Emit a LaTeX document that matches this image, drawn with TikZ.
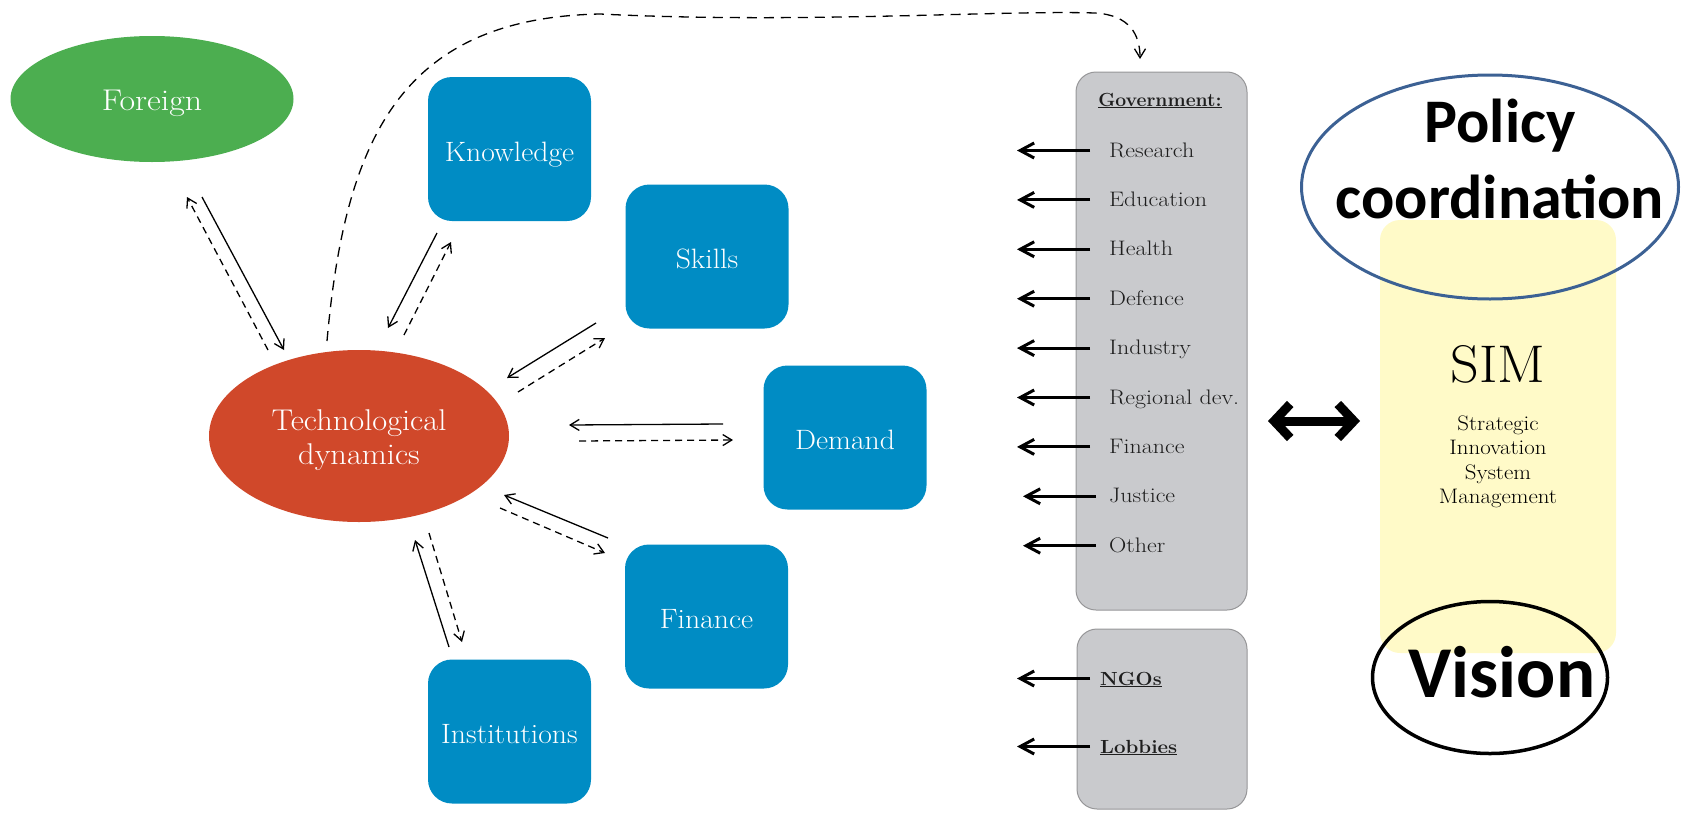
\documentclass[tikz,border=0pt]{standalone}
\usepackage{fontspec}
\usepackage{graphicx}
\newfontfamily\carlito{Carlito}
\usetikzlibrary{arrows.meta,shapes.geometric}
\newcommand\wider[2]{\scalebox{#1}[1]{#2}}
\newcommand\gitem[1]{\scalebox{1.14}[1]{#1}}
\definecolor{boxblue}{RGB}{0,140,196}
\definecolor{techred}{RGB}{208,72,42}
\definecolor{forgreen}{RGB}{76,174,80}
\definecolor{govgray}{RGB}{201,202,205}
\definecolor{govedge}{RGB}{150,150,152}
\definecolor{simyellow}{RGB}{255,250,200}
\definecolor{polblue}{RGB}{60,97,148}
\definecolor{itemtext}{RGB}{30,30,30}
\begin{document}
\begin{tikzpicture}[x=1pt,y=-1pt,
  bluebox/.style={fill=boxblue, rounded corners=24pt, minimum width=163pt, minimum height=144pt,
    text=white, font=\fontsize{28}{33}\selectfont, inner sep=0pt,
    text height=24pt, text depth=0pt},
  govbox/.style={fill=govgray, draw=govedge, line width=1pt, rounded corners=20pt, inner sep=0pt},
  govitem/.style={anchor=base west, font=\fontsize{21}{25}\selectfont, text=itemtext, inner sep=0pt},
  govbold/.style={anchor=base west, font=\fontsize{19}{23}\selectfont\bfseries, text=itemtext, inner sep=0pt},
  govarrow/.style={line width=3pt, -{Straight Barb[length=14pt,width=15pt]}},
  link/.style={line width=1.3pt, -{Straight Barb[length=9pt,width=11pt]}},
  dlink/.style={link, dash pattern=on 7pt off 5pt},
  bigarrow/.style={line width=9pt, {Straight Barb[length=16pt,width=34pt]}-{Straight Barb[length=16pt,width=34pt]}},
]
\useasboundingbox (0,0) rectangle (1686,814);

% ---- left cluster ----
\node[ellipse, fill=forgreen, minimum width=283pt, minimum height=126pt, inner sep=0pt,
  text=white, font=\fontsize{30}{35}\selectfont,
  text height=22pt, text depth=0pt] (foreign) at (152,99) {\wider{1.13}{Foreign}};
\node[ellipse, fill=techred, minimum width=300pt, minimum height=172pt, inner sep=0pt] (tech) at (359,436) {};
\node[anchor=base, text width=260pt, align=center, text=white, inner sep=0pt,
  font=\fontsize{30}{34}\selectfont] (techtext) at (359,430) {\wider{1.08}{Technological}\\\wider{1.08}{dynamics}};

\node[bluebox] (know) at (509.5,149) {\wider{1.06}{Knowledge}};
\node[bluebox] (skills) at (707,256.5) {\wider{1.06}{Skills}};
\node[bluebox] (demand) at (845,437.5) {\wider{1.06}{Demand}};
\node[bluebox] (fin) at (706.5,616.5) {\wider{1.06}{Finance}};
\node[bluebox] (inst) at (509.5,731.5) {\wider{1.06}{Institutions}};

% connector end points
\coordinate (fs1) at (202,197); \coordinate (fs2) at (284,350);
\coordinate (fd1) at (268,350); \coordinate (fd2) at (187,197);
\coordinate (ks1) at (437,233); \coordinate (ks2) at (388,328);
\coordinate (kd1) at (404,335); \coordinate (kd2) at (451,242);
\coordinate (ss1) at (596,323); \coordinate (ss2) at (507,378);
\coordinate (sd1) at (518,392); \coordinate (sd2) at (605,338);
\coordinate (ds1) at (723,424); \coordinate (ds2) at (569,425);
\coordinate (dd1) at (579,441); \coordinate (dd2) at (733,440);
\coordinate (ns1) at (608,538); \coordinate (ns2) at (504,495);
\coordinate (nd1) at (500,508); \coordinate (nd2) at (605,553);
\coordinate (is1) at (449,647); \coordinate (is2) at (415,540);
\coordinate (id1) at (429,533); \coordinate (id2) at (462,642);

\draw[link] (fs1) -- (fs2);  \draw[dlink] (fd1) -- (fd2);
\draw[link] (ks1) -- (ks2);  \draw[dlink] (kd1) -- (kd2);
\draw[link] (ss1) -- (ss2);  \draw[dlink] (sd1) -- (sd2);
\draw[link] (ds1) -- (ds2);  \draw[dlink] (dd1) -- (dd2);
\draw[link] (ns1) -- (ns2);  \draw[dlink] (nd1) -- (nd2);
\draw[link] (is1) -- (is2);  \draw[dlink] (id1) -- (id2);

% long dashed curve to government
\coordinate (cstart) at (327,341);
\coordinate (cend) at (1140,59);
\draw[link, dash pattern=on 10pt off 7pt] (cstart) .. controls (345,140) and (400,18) .. (600,14)
  .. controls (800,24) and (1000,10) .. (1095,13)
  .. controls (1130,15) and (1140,35) .. (cend);

% ---- government ----
\node[govbox, minimum width=171pt, minimum height=538pt] (gov) at (1161.5,341) {};
\node[anchor=base, font=\fontsize{19}{23}\selectfont\bfseries, text=itemtext, inner sep=0pt] (govtitle) at (1160,106) {\underline{\wider{1.02}{Government:}}};
\node[govitem] (research) at (1109,157) {\gitem{Research}};
\node[govitem] (education) at (1109,206.4) {\gitem{Education}};
\node[govitem] (health) at (1109,255.8) {\gitem{Health}};
\node[govitem] (defence) at (1109,305.2) {\gitem{Defence}};
\node[govitem] (industry) at (1109,354.6) {\gitem{Industry}};
\node[govitem] (regional) at (1109,404) {\gitem{Regional dev.}};
\node[govitem] (finance) at (1109,453.4) {\gitem{Finance}};
\node[govitem] (justice) at (1109,502.8) {\gitem{Justice}};
\node[govitem] (other) at (1109,552.2) {\gitem{Other}};

\foreach \n in {research,education,health,defence,industry,regional,finance}{
  \draw[govarrow] ([xshift=-19pt,yshift=6.5pt]\n.base west) -- ++(-73,0);
}
\foreach \n in {justice,other}{
  \draw[govarrow] ([xshift=-13pt,yshift=6.5pt]\n.base west) -- ++(-73,0);
}

\node[govbox, minimum width=170pt, minimum height=180pt] (civil) at (1162,719) {};
\node[govbold] (ngos) at (1100,685) {\underline{\wider{1.06}{NGOs}}};
\node[govbold] (lobbies) at (1100,753) {\underline{\wider{1.08}{Lobbies}}};
\foreach \n in {ngos,lobbies}{
  \draw[govarrow] ([xshift=-10pt,yshift=6.5pt]\n.base west) -- ++(-73,0);
}

% ---- SIM ----
\node[fill=simyellow, rounded corners=20pt, minimum width=236pt, minimum height=433pt, inner sep=0pt] (sim) at (1498,436.5) {};
\node[anchor=base, font=\fontsize{53}{60}\selectfont, inner sep=0pt] (simtitle) at (1498,382) {\wider{1.06}{SIM}};
\node[anchor=base, text width=200pt, align=center, font=\fontsize{21}{24.6}\selectfont, inner sep=0pt] (simdesc) at (1498,430)
  {\wider{1.09}{Strategic}\\\wider{1.09}{Innovation}\\\wider{1.09}{System}\\\wider{1.09}{Management}};

\coordinate (dl) at (1268,421);
\coordinate (dr) at (1360,421);
\draw[bigarrow] (dl) -- (dr);

% ---- policy coordination / vision ----
\node[ellipse, draw=polblue, line width=3pt, minimum width=377pt, minimum height=224pt, inner sep=0pt] (polring) at (1490,187) {};
\node[anchor=base, text width=400pt, align=center, font=\carlito\bfseries\fontsize{62}{76}\selectfont, inner sep=0pt] (poltext) at (1500,142) {Policy\\coordination};

\node[ellipse, draw=black, line width=3.5pt, minimum width=235pt, minimum height=152pt, inner sep=0pt] (visring) at (1490,677.5) {};
\node[anchor=base, font=\carlito\bfseries\fontsize{73}{80}\selectfont, inner sep=0pt] (vistext) at (1502,697) {Vision};
\end{tikzpicture}
\end{document}
